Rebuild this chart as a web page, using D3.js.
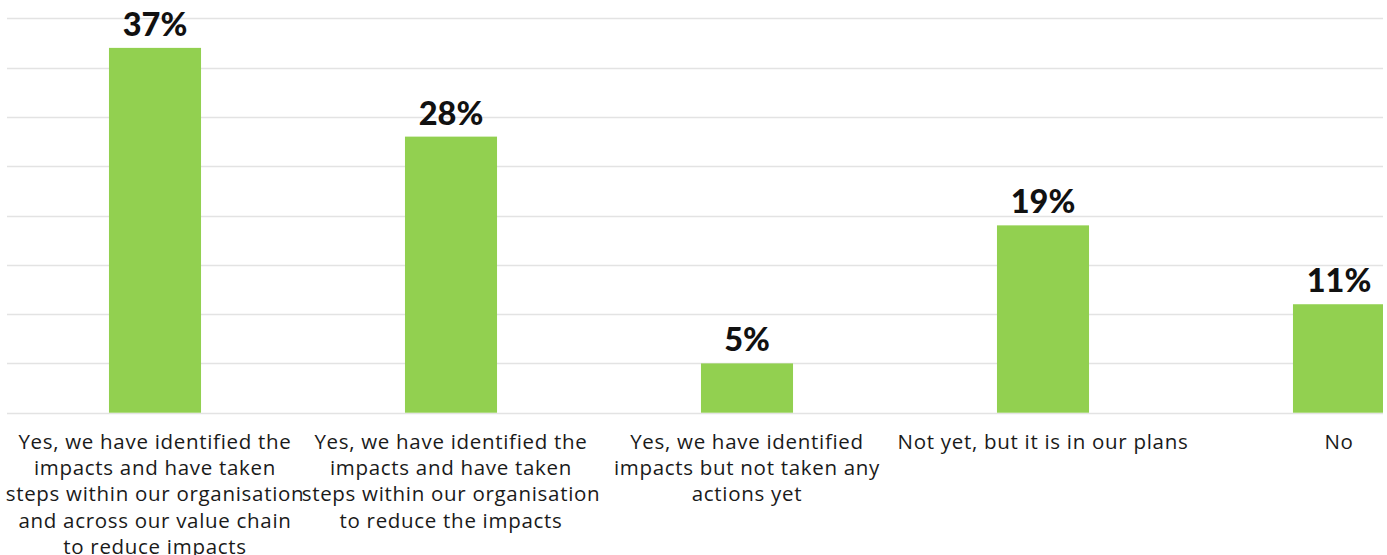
<!DOCTYPE html>
<html>
<head>
<meta charset="utf-8">
<script src="https://cdn.jsdelivr.net/npm/d3@7"></script>
<style>
  html, body { margin: 0; padding: 0; background: #fff; }
  svg { display: block; }
</style>
</head>
<body>
<svg id="chart" width="1387" height="555"></svg>
<script>
const categories = [
  "Yes, we have identified the impacts and have taken steps within our organisation and across our value chain to reduce impacts",
  "Yes, we have identified the impacts and have taken steps within our organisation to reduce the impacts",
  "Yes, we have identified impacts but not taken any actions yet",
  "Not yet, but it is in our plans",
  "No"
];
const labelLines = [
  ["Yes, we have identified the", "impacts and have taken", "steps within our organisation", "and across our value chain", "to reduce impacts"],
  ["Yes, we have identified the", "impacts and have taken", "steps within our organisation", "to reduce the impacts"],
  ["Yes, we have identified", "impacts but not taken any", "actions yet"],
  ["Not yet, but it is in our plans"],
  ["No"]
];
const values = [37, 28, 5, 19, 11];
const gridTicks = [0, 5, 10, 15, 20, 25, 30, 35, 40];

const svg = d3.select("#chart");
const plotLeft = 7, plotRight = 1383, plotTop = 18.3, plotBottom = 412.7;
const step = 296;

const x = d3.scaleBand()
  .domain(categories)
  .range([plotLeft, plotLeft + step * categories.length])
  .paddingInner(0.689)
  .paddingOuter(0.689 / 2);

const y = d3.scaleLinear().domain([0, 40]).range([plotBottom, plotTop]);

svg.append("clipPath").attr("id", "plotclip")
  .append("rect")
  .attr("x", plotLeft).attr("y", 0)
  .attr("width", plotRight - plotLeft).attr("height", plotBottom + 1);

// gridlines
svg.append("g")
  .selectAll("line")
  .data(gridTicks)
  .join("line")
  .attr("x1", plotLeft)
  .attr("x2", plotRight)
  .attr("y1", d => Math.round(y(d)) + 0.5)
  .attr("y2", d => Math.round(y(d)) + 0.5)
  .attr("stroke", "#e3e3e3")
  .attr("stroke-width", 1.3);

// bars
svg.append("g")
  .attr("clip-path", "url(#plotclip)")
  .selectAll("rect")
  .data(values)
  .join("rect")
  .attr("x", (d, i) => x(categories[i]))
  .attr("y", d => y(d))
  .attr("width", x.bandwidth())
  .attr("height", d => plotBottom - y(d))
  .attr("fill", "#92d050");

// value labels
svg.append("g")
  .selectAll("text")
  .data(values)
  .join("text")
  .attr("x", (d, i) => x(categories[i]) + x.bandwidth() / 2)
  .attr("y", d => y(d) - 12)
  .attr("text-anchor", "middle")
  .attr("font-family", "Lato, 'Open Sans', sans-serif")
  .attr("font-weight", 900)
  .attr("font-size", 32.5)
  .attr("fill", "#111")
  .text(d => d + "%");

// category labels
const catG = svg.append("g");
labelLines.forEach((lines, i) => {
  const cx = x(categories[i]) + x.bandwidth() / 2;
  const t = catG.append("text")
    .attr("x", cx)
    .attr("y", 449)
    .attr("text-anchor", "middle")
    .attr("font-family", "'Open Sans', Lato, sans-serif")
    .attr("font-size", 20.5)
    .attr("letter-spacing", 0.7)
    .attr("fill", "#1a1a1a");
  lines.forEach((ln, j) => {
    t.append("tspan")
      .attr("x", cx)
      .attr("y", 449 + j * 26.2)
      .text(ln);
  });
});
</script>
</body>
</html>
